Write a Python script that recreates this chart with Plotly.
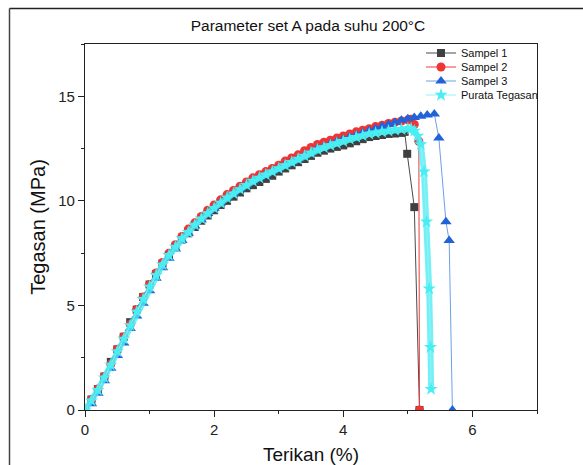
import plotly.graph_objects as go

# ---------------- data ----------------
s1_strain = [0.0, 0.1, 0.2, 0.3, 0.4, 0.5, 0.6, 0.7, 0.8, 0.9, 1.0, 1.1, 1.2, 1.3, 1.4, 1.5, 1.6, 1.7, 1.8, 1.9,
             2.0, 2.1, 2.2, 2.3, 2.4, 2.5, 2.6, 2.7, 2.8, 2.9, 3.0, 3.1, 3.2, 3.3, 3.4, 3.5, 3.6, 3.7, 3.8, 3.9,
             4.0, 4.1, 4.2, 4.3, 4.4, 4.5, 4.6, 4.7, 4.8, 4.9, 4.95, 4.99, 5.10, 5.18]
s1_stress = [0.0, 0.5, 1.0, 1.6, 2.3, 2.9, 3.5, 4.2, 4.8, 5.4, 6.0, 6.5, 7.0, 7.4, 7.8, 8.15, 8.45, 8.75, 9.05, 9.3,
             9.55, 9.8, 10.0, 10.2, 10.4, 10.6, 10.75, 10.9, 11.05, 11.2, 11.4, 11.55, 11.7, 11.85, 12.0, 12.15, 12.3, 12.4, 12.5, 12.58,
             12.65, 12.75, 12.85, 12.95, 13.05, 13.1, 13.15, 13.2, 13.22, 13.25, 13.3, 12.25, 9.7, 0.0]

s2_strain = [0.0, 0.1, 0.2, 0.3, 0.4, 0.5, 0.6, 0.7, 0.8, 0.9, 1.0, 1.1, 1.2, 1.3, 1.4, 1.5, 1.6, 1.7, 1.8, 1.9,
             2.0, 2.1, 2.2, 2.3, 2.4, 2.5, 2.6, 2.7, 2.8, 2.9, 3.0, 3.1, 3.2, 3.3, 3.4, 3.5, 3.6, 3.7, 3.8, 3.9,
             4.0, 4.1, 4.2, 4.3, 4.4, 4.5, 4.6, 4.7, 4.8, 4.9, 5.0, 5.05, 5.10, 5.17, 5.18]
s2_stress = [0.0, 0.5, 1.0, 1.6, 2.2, 2.9, 3.5, 4.1, 4.8, 5.4, 6.0, 6.55, 7.05, 7.5, 7.9, 8.3, 8.65, 8.95, 9.25, 9.55,
             9.8, 10.05, 10.3, 10.5, 10.7, 10.9, 11.1, 11.25, 11.4, 11.55, 11.7, 11.9, 12.05, 12.2, 12.4, 12.55, 12.7, 12.8, 12.9, 13.0,
             13.1, 13.2, 13.3, 13.38, 13.45, 13.55, 13.62, 13.7, 13.76, 13.82, 13.87, 13.9, 13.65, 12.85, 0.0]

s3_strain = [0.0, 0.1, 0.2, 0.3, 0.4, 0.5, 0.6, 0.7, 0.8, 0.9, 1.0, 1.1, 1.2, 1.3, 1.4, 1.5, 1.6, 1.7, 1.8, 1.9,
             2.0, 2.1, 2.2, 2.3, 2.4, 2.5, 2.6, 2.7, 2.8, 2.9, 3.0, 3.1, 3.2, 3.3, 3.4, 3.5, 3.6, 3.7, 3.8, 3.9,
             4.0, 4.1, 4.2, 4.3, 4.4, 4.5, 4.6, 4.7, 4.8, 4.9, 5.0, 5.1, 5.2, 5.3, 5.41, 5.48, 5.59, 5.64, 5.69]
s3_stress = [0.0, 0.3, 0.8, 1.4, 2.0, 2.6, 3.2, 3.9, 4.5, 5.1, 5.7, 6.3, 6.8, 7.25, 7.7, 8.1, 8.45, 8.8, 9.1, 9.4,
             9.65, 9.9, 10.15, 10.35, 10.55, 10.75, 10.95, 11.1, 11.25, 11.4, 11.55, 11.7, 11.85, 12.0, 12.15, 12.3, 12.5, 12.6, 12.72, 12.84,
             12.95, 13.05, 13.15, 13.25, 13.35, 13.45, 13.55, 13.65, 13.75, 13.85, 13.92, 13.98, 14.04, 14.1, 14.15, 13.0, 9.0, 8.1, 0.0]

avg_strain = [0.0, 0.1, 0.2, 0.3, 0.4, 0.5, 0.6, 0.7, 0.8, 0.9, 1.0, 1.1, 1.2, 1.3, 1.4, 1.5, 1.6, 1.7, 1.8, 1.9,
              2.0, 2.1, 2.2, 2.3, 2.4, 2.5, 2.6, 2.7, 2.8, 2.9, 3.0, 3.1, 3.2, 3.3, 3.4, 3.5, 3.6, 3.7, 3.8, 3.9,
              4.0, 4.1, 4.2, 4.3, 4.4, 4.5, 4.6, 4.7, 4.8, 4.9, 5.0, 5.05, 5.1, 5.15, 5.2, 5.25, 5.29, 5.33, 5.35, 5.36]
avg_stress = [0.0, 0.45, 0.95, 1.55, 2.15, 2.8, 3.4, 4.05, 4.7, 5.3, 5.9, 6.45, 6.95, 7.4, 7.8, 8.2, 8.5, 8.85, 9.15, 9.4,
              9.65, 9.9, 10.15, 10.35, 10.55, 10.75, 10.95, 11.1, 11.25, 11.4, 11.55, 11.7, 11.85, 12.0, 12.15, 12.3, 12.45, 12.55, 12.65, 12.75,
              12.85, 12.95, 13.05, 13.12, 13.2, 13.25, 13.3, 13.35, 13.4, 13.42, 13.45, 13.45, 13.35, 13.1, 12.7, 11.4, 9.0, 5.8, 3.0, 1.0]

x_ticks = [0, 2, 4, 6]
y_ticks = [0, 5, 10, 15]

FONT = "Liberation Sans, Arial, sans-serif"

# plot area geometry in pixels (for placing legends / frame)
W, H = 583, 465
L, R, T, B = 85, 46, 44, 55
PW, PH = W - L - R, H - T - B


def py(ypx):
    return 1 - (ypx - T) / PH


def px(xpx):
    return (xpx - L) / PW


fig = go.Figure()

fig.add_trace(go.Scatter(x=s1_strain, y=s1_stress, mode="lines+markers", name="Sampel 1", legend="legend",
                         line=dict(color="#4a4a4a", width=1),
                         marker=dict(symbol="square", size=8, color="#404040")))
fig.add_trace(go.Scatter(x=s2_strain, y=s2_stress, mode="lines+markers", name="Sampel 2", legend="legend2",
                         line=dict(color="#ee3a3a", width=1),
                         marker=dict(symbol="circle", size=9, color="#ee3434")))
fig.add_trace(go.Scatter(x=s3_strain, y=s3_stress, mode="lines+markers", name="Sampel 3", legend="legend3",
                         line=dict(color="#6f9fe8", width=1),
                         marker=dict(symbol="triangle-up", size=10, color="#2062d8")))
# thick band underneath the average stars
fig.add_trace(go.Scatter(x=avg_strain, y=avg_stress, mode="lines", showlegend=False, hoverinfo="skip",
                         line=dict(color="rgba(80,236,242,0.8)", width=6)))
fig.add_trace(go.Scatter(x=avg_strain, y=avg_stress, mode="lines+markers", name="Purata Tegasan", legend="legend4",
                         line=dict(color="#8ef4f6", width=1),
                         marker=dict(symbol="star", size=10, color="#48eef2")))

axis_common = dict(showline=True, linecolor="#222", linewidth=1.3, mirror=True,
                   ticks="outside", ticklen=6, tickwidth=1.2, tickcolor="#222",
                   showgrid=False, zeroline=False, automargin=False,
                   tickfont=dict(family=FONT, size=15, color="#222"))

fig.update_xaxes(range=[0, 7], tickvals=x_ticks,
                 minor=dict(dtick=1, ticks="outside", ticklen=3, tickcolor="#222", tickwidth=1),
                 title=dict(text="Terikan (%)", font=dict(family=FONT, size=19, color="#111"), standoff=15),
                 **axis_common)
fig.update_yaxes(range=[0, 17.5], tickvals=y_ticks,
                 minor=dict(dtick=2.5, ticks="outside", ticklen=3, tickcolor="#222", tickwidth=1),
                 title=dict(text="Tegasan (MPa)", font=dict(family=FONT, size=20, color="#111"), standoff=7),
                 **axis_common)

# outer frame (cropped box around the figure)
fig.add_shape(type="line", xref="paper", yref="paper", x0=px(9.5), x1=px(590), y0=py(8.5), y1=py(8.5),
              line=dict(color="#222", width=1.5))
fig.add_shape(type="line", xref="paper", yref="paper", x0=px(9.5), x1=px(9.5), y0=py(8.5), y1=py(470),
              line=dict(color="#444", width=1.5))

leg_common = dict(xanchor="left", yanchor="middle", bgcolor="rgba(0,0,0,0)",
                  font=dict(family=FONT, size=11, color="#111"), itemwidth=30)
legend_rows = [53, 67, 81, 95]
legend_x = 421

fig.update_layout(
    width=W, height=H,
    margin=dict(l=L, r=R, t=T, b=B),
    paper_bgcolor="white", plot_bgcolor="white",
    font=dict(family=FONT, color="#111"),
    title=dict(text="Parameter set A pada suhu 200°C", x=px(308), xref="paper", y=1 - 26 / H, yref="container",
               xanchor="center", yanchor="middle", font=dict(family=FONT, size=15.5, color="#111")),
    legend=dict(x=px(legend_x), y=py(legend_rows[0]), **leg_common),
    legend2=dict(x=px(legend_x), y=py(legend_rows[1]), **leg_common),
    legend3=dict(x=px(legend_x), y=py(legend_rows[2]), **leg_common),
    legend4=dict(x=px(legend_x), y=py(legend_rows[3]), **leg_common),
    showlegend=True,
)

fig.write_html("out.html")
